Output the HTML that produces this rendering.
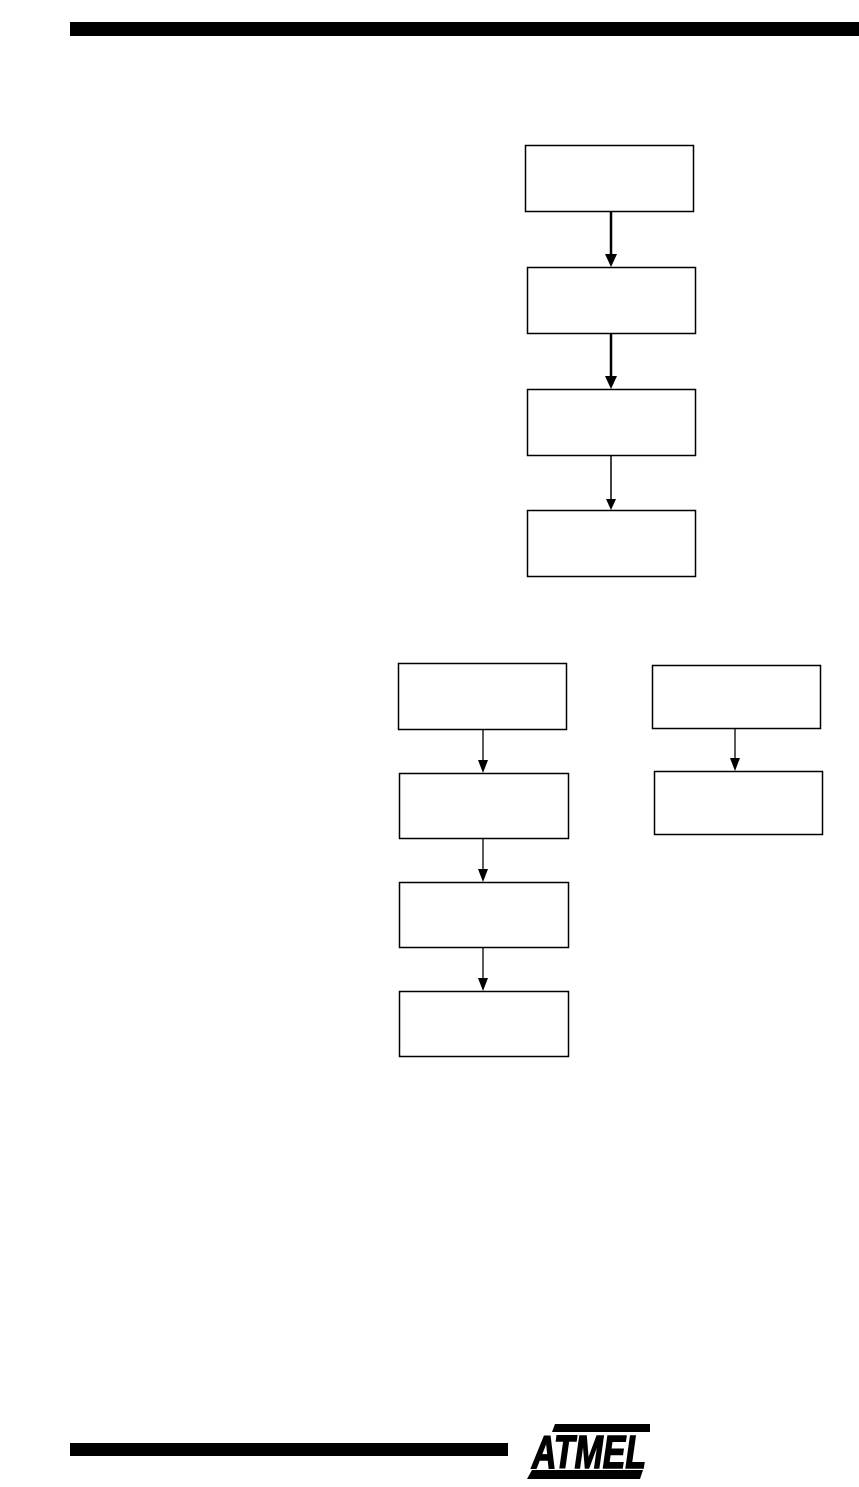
<!DOCTYPE html>
<html><head><meta charset="utf-8"><style>
html,body{margin:0;padding:0;background:#fff;}
svg{display:block;}
</style></head><body>
<svg width="859" height="1487" viewBox="0 0 859 1487" xmlns="http://www.w3.org/2000/svg">
<rect x="70" y="22" width="789" height="14" fill="#000"/>
<g fill="none" stroke="#000" stroke-width="1.5">
<rect x="525.5" y="145.5" width="168" height="66"/>
<rect x="527.5" y="267.5" width="168" height="66"/>
<rect x="527.5" y="389.5" width="168" height="66"/>
<rect x="527.5" y="510.5" width="168" height="66"/>
<rect x="398.5" y="663.5" width="168" height="66"/>
<rect x="399.5" y="773.5" width="169" height="65"/>
<rect x="399.5" y="882.5" width="169" height="65"/>
<rect x="399.5" y="991.5" width="169" height="65"/>
<rect x="652.5" y="665.5" width="168" height="63"/>
<rect x="654.5" y="771.5" width="168" height="63"/>
</g>
<g stroke="#000">
<line x1="611" y1="212" x2="611" y2="256" stroke-width="2.5"/>
<line x1="611" y1="334" x2="611" y2="378" stroke-width="2.5"/>
<line x1="611" y1="456" x2="611" y2="500" stroke-width="1.5"/>
<line x1="483" y1="730" x2="483" y2="762" stroke-width="1.3"/>
<line x1="483" y1="839" x2="483" y2="871" stroke-width="1.3"/>
<line x1="483" y1="948" x2="483" y2="980" stroke-width="1.3"/>
<line x1="735" y1="729" x2="735" y2="760" stroke-width="1.3"/>
</g>
<g fill="#000">
<polygon points="605,254 617,254 611,267"/>
<polygon points="605,376 617,376 611,389"/>
<polygon points="606,499 616,499 611,510"/>
<polygon points="478,760 488,760 483,773"/>
<polygon points="478,869 488,869 483,882"/>
<polygon points="478,978 488,978 483,991"/>
<polygon points="730,758 740,758 735,771"/>
</g>
<rect x="70" y="1443" width="438" height="13" fill="#000"/>
<polygon points="555,1424 650,1424 650,1432 552,1432" fill="#000"/>
<polygon points="532,1470 643,1470 640,1479 527,1479" fill="#000"/>
<text x="532" y="1468" font-family="Liberation Sans, sans-serif" font-weight="bold" font-style="italic" font-size="46" stroke="#000" stroke-width="1.6" textLength="114" lengthAdjust="spacingAndGlyphs">ATMEL</text>
</svg>
</body></html>
